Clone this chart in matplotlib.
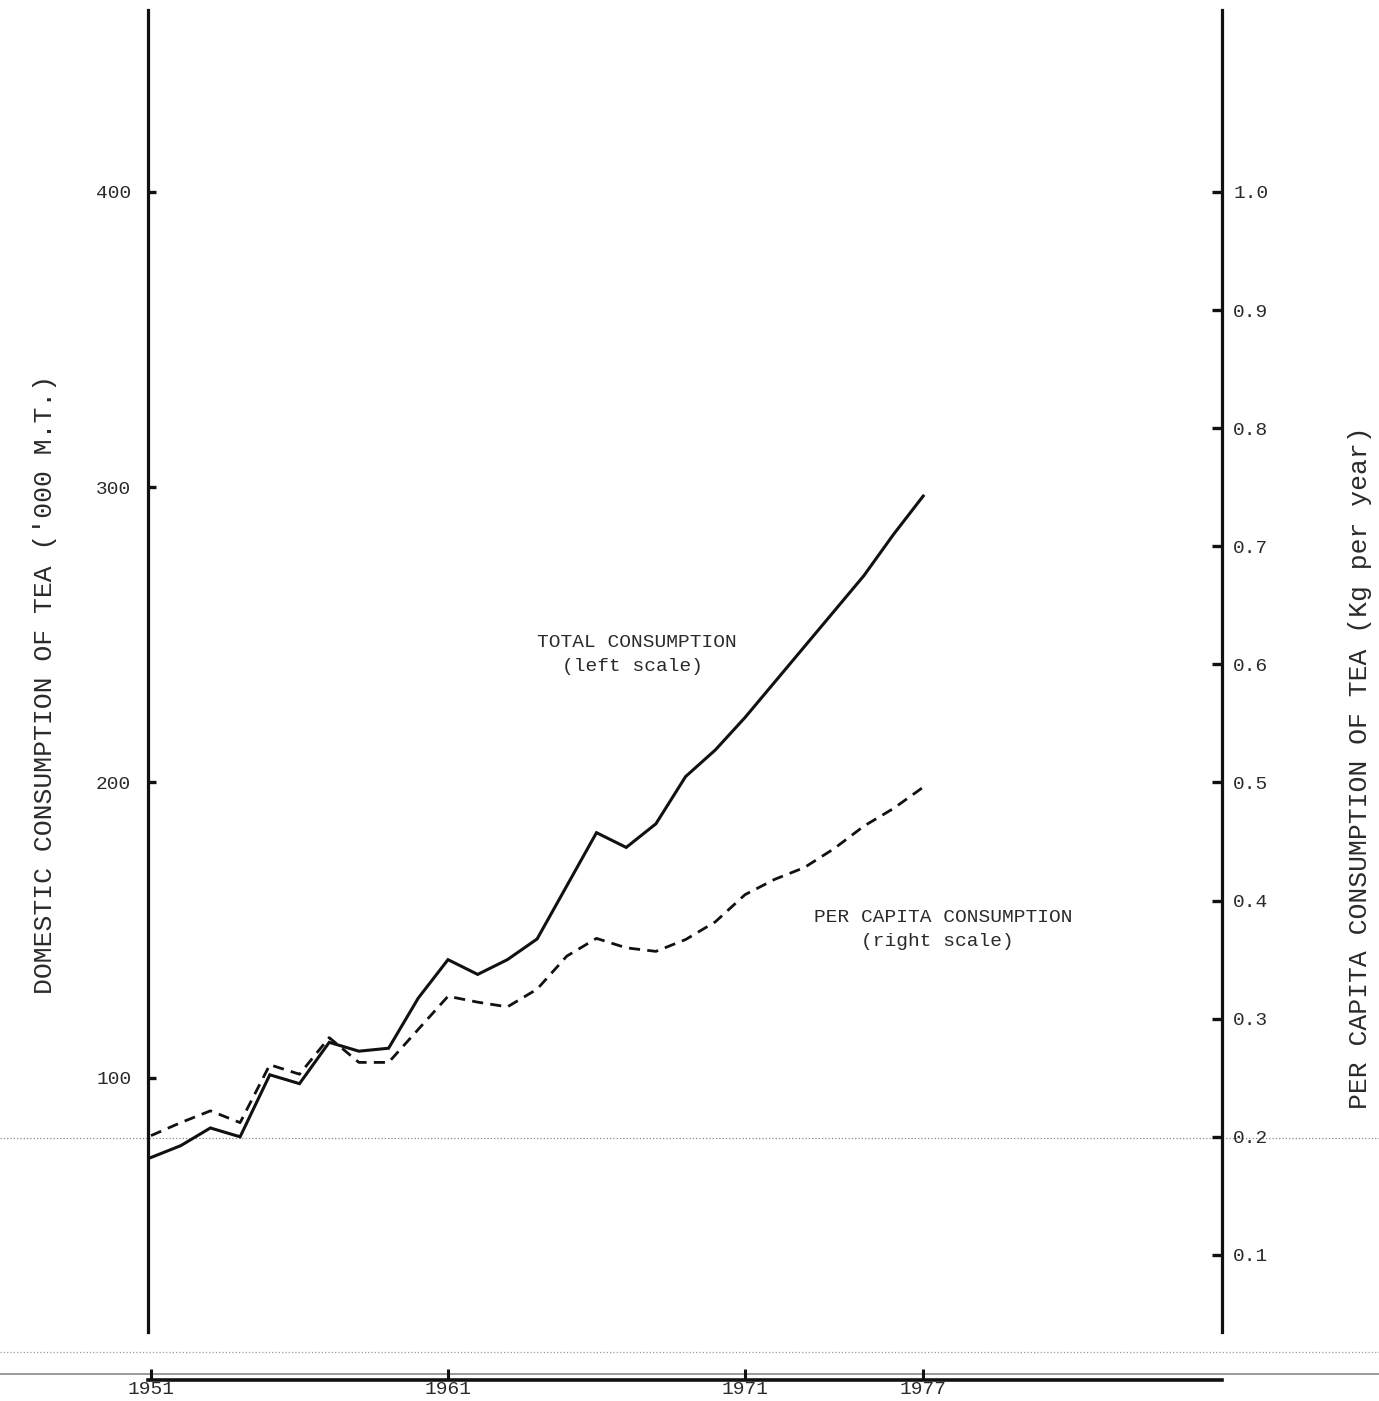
import matplotlib
matplotlib.use("Agg")
import matplotlib.pyplot as plt
from matplotlib.lines import Line2D

# ---- data ----
years = [1951, 1952, 1953, 1954, 1955, 1956, 1957, 1958, 1959, 1960,
         1961, 1962, 1963, 1964, 1965, 1966, 1967, 1968, 1969, 1970,
         1971, 1972, 1973, 1974, 1975, 1976, 1977]
total_consumption = [73, 77, 83, 80, 101, 98, 112, 109, 110, 127,
                     140, 135, 140, 147, 165, 183, 178, 186, 202, 211,
                     222, 234, 246, 258, 270, 284, 297]
per_capita = [0.201, 0.212, 0.222, 0.212, 0.261, 0.253, 0.284, 0.263, 0.263, 0.291,
              0.319, 0.314, 0.310, 0.325, 0.353, 0.368, 0.360, 0.357, 0.367, 0.382,
              0.405, 0.418, 0.428, 0.444, 0.463, 0.478, 0.496]
x_ticks = [1951, 1961, 1971, 1977]
left_ticks = [100, 200, 300, 400]
right_ticks = [0.1, 0.2, 0.3, 0.4, 0.5, 0.6, 0.7, 0.8, 0.9, 1.0]
left_label = "DOMESTIC CONSUMPTION OF TEA ('000 M.T.)"
right_label = "PER CAPITA CONSUMPTION OF TEA (Kg per year)"

FONT = ["Liberation Mono", "DejaVu Sans Mono"]
plt.rcParams['font.family'] = FONT
INK = "#111111"
TXT = "#2a2a2a"

W, H = 1379, 1401
fig = plt.figure(figsize=(W / 100, H / 100), dpi=100)
fig.patch.set_facecolor("white")

# axes box in pixels: left spine x=148, right spine x=1222, top y=10, bottom y=1332
l, r, t, b = 148, 1222, 10, 1332
ax = fig.add_axes([l / W, 1 - b / H, (r - l) / W, (b - t) / H])
ax.set_facecolor("none")

xmin = 1951 - 3 / 29.7
xmax = 1951 + (r - 151) / 29.7
ax.set_xlim(xmin, xmax)
ylo, yhi = 13.9, 461.6
ax.set_ylim(ylo, yhi)

ax2 = ax.twinx()
ax2.set_ylim(ylo / 400, yhi / 400)

# lines
ax.plot(years, total_consumption, color=INK, lw=2.2, solid_joinstyle="miter")
ax2.plot(years, per_capita, color=INK, lw=2.0, dashes=(4.0, 2.6))

# spines
for s in ["top", "right"]:
    ax.spines[s].set_visible(False)
ax.spines["left"].set_linewidth(2.3)
ax.spines["left"].set_color(INK)
ax.spines["bottom"].set_position(("outward", 48 * 0.72))
ax.spines["bottom"].set_linewidth(2.6)
ax.spines["bottom"].set_color(INK)
for s in ["top", "left", "bottom"]:
    ax2.spines[s].set_visible(False)
ax2.spines["right"].set_linewidth(2.3)
ax2.spines["right"].set_color(INK)

# ticks
ax.set_xticks(x_ticks)
ax.set_xticklabels([str(v) for v in x_ticks])
ax.tick_params(axis="x", direction="in", length=8, width=2.2, color=INK,
               pad=1, labelsize=14, labelcolor=TXT)
ax.set_yticks(left_ticks)
ax.set_yticklabels([str(v) for v in left_ticks])
ax.tick_params(axis="y", direction="in", length=6, width=2.4, color=INK,
               pad=12, labelsize=14, labelcolor=TXT)
ax2.set_yticks(right_ticks)
ax2.set_yticklabels([f"{v:.1f}" for v in right_ticks])
ax2.tick_params(axis="y", direction="in", length=7, width=2.4, color=INK,
                pad=8, labelsize=14, labelcolor=TXT)

# axis labels
fig.text(45 / W, 1 - 684 / H, left_label, rotation=90, ha="center", va="center",
         fontsize=19, color=TXT)
fig.text(1360 / W, 1 - 768 / H, right_label, rotation=90, ha="center", va="center",
         fontsize=19, color=TXT)

# annotations
def px2data_x(px):
    return 1951 + (px - 151) / 29.7

def py2left(py):
    return ylo + (b - py) / (b - t) * (yhi - ylo)

ax.text(px2data_x(637), py2left(643), "TOTAL CONSUMPTION", ha="center", va="center",
        fontsize=14, color=TXT)
ax.text(px2data_x(632), py2left(667), "(left scale)", ha="center", va="center",
        fontsize=14, color=TXT)
ax.text(px2data_x(943), py2left(918), "PER CAPITA CONSUMPTION", ha="center", va="center",
        fontsize=14, color=TXT)
ax.text(px2data_x(937), py2left(942), "(right scale)", ha="center", va="center",
        fontsize=14, color=TXT)

# faint scan lines across the page
for yy, ls, c, lw in [(1138, ":", "#8a8a8a", 0.9), (1352, ":", "#9a9a9a", 0.9),
                      (1374, "-", "#8a8a8a", 1.2)]:
    fig.add_artist(Line2D([0, 1], [1 - yy / H, 1 - yy / H], transform=fig.transFigure,
                          color=c, lw=lw, ls=ls, zorder=0))

fig.savefig("out.png", dpi=100, facecolor="white")
